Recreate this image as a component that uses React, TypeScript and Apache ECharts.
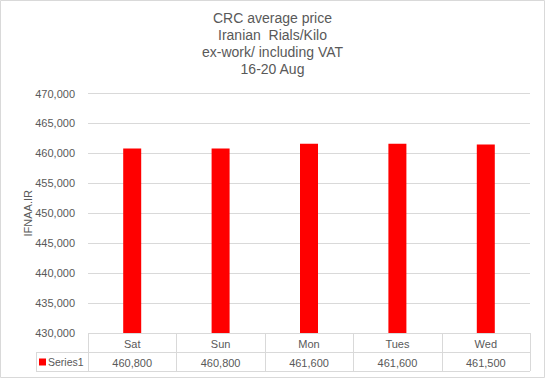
import React, { useEffect, useRef } from "react";
import * as echarts from "echarts";

const titleLines = ["CRC average price", "Iranian  Rials/Kilo", "ex-work/ including VAT", "16-20 Aug"];
const categories = ["Sat", "Sun", "Mon", "Tues", "Wed"];
const seriesName = "Series1";
const values = [460800, 460800, 461600, 461600, 461500];
const yMin = 430000;
const yMax = 470000;
const yStep = 5000;
const yAxisTitle = "IFNAA.IR";

const W = 545;
const H = 378;
const GL = 88;
const GR = 530;
const GT = 93.5;
const GB = 333;
const ROW = 19;
const LEGX = 36;
const LINE = "#d9d9d9";
const TXT = "#595959";

const fmt = (v: number) => v.toLocaleString("en-US");

export default function App() {
  const ref = useRef<HTMLDivElement>(null);
  useEffect(() => {
    document.body.style.margin = "0";
    const chart = echarts.init(ref.current!, null, { renderer: "svg" });
    const colW = (GR - GL) / categories.length;
    const graphics: any[] = [];
    graphics.push({
      type: "rect",
      shape: { x: 0.5, y: 0.5, width: W - 1, height: H - 1 },
      style: { fill: "none", stroke: LINE, lineWidth: 1 },
      silent: true,
    });
    titleLines.forEach((t, i) => {
      graphics.push({
        type: "text",
        x: W / 2,
        y: 18 + i * 17,
        style: {
          text: t,
          fill: TXT,
          font: "14px 'Liberation Sans', Arial, sans-serif",
          textAlign: "center",
          textVerticalAlign: "middle",
        },
      });
    });
    graphics.push({
      type: "text",
      x: 28,
      y: (GT + GB) / 2,
      rotation: Math.PI / 2,
      style: {
        text: yAxisTitle,
        fill: TXT,
        font: "11px 'Liberation Sans', Arial, sans-serif",
        textAlign: "center",
        textVerticalAlign: "middle",
      },
    });
    const hl = (x1: number, x2: number, y: number) =>
      graphics.push({ type: "line", shape: { x1, y1: y, x2, y2: y }, style: { stroke: LINE, lineWidth: 1 } });
    const vl = (x: number, y1: number, y2: number) =>
      graphics.push({ type: "line", shape: { x1: x, y1, x2: x, y2 }, style: { stroke: LINE, lineWidth: 1 } });
    hl(GL, GR, GB + 0.5);
    hl(LEGX, GR, GB + ROW + 0.5);
    hl(LEGX, GR, GB + 2 * ROW + 0.5);
    vl(LEGX + 0.5, GB + ROW, GB + 2 * ROW);
    for (let i = 0; i <= categories.length; i++) {
      vl(Math.round(GL + i * colW) + 0.5, GB, GB + 2 * ROW);
    }
    values.forEach((v, i) => {
      graphics.push({
        type: "text",
        x: GL + (i + 0.5) * colW,
        y: GB + ROW * 1.5 + 1,
        style: {
          text: fmt(v),
          fill: TXT,
          font: "11px 'Liberation Sans', Arial, sans-serif",
          textAlign: "center",
          textVerticalAlign: "middle",
        },
      });
    });
    graphics.push({
      type: "rect",
      shape: { x: 39, y: GB + ROW * 1.5 - 3, width: 7, height: 7 },
      style: { fill: "#ff0000" },
    });
    graphics.push({
      type: "text",
      x: 48,
      y: GB + ROW * 1.5 + 0.5,
      style: {
        text: seriesName,
        fill: TXT,
        font: "10.5px 'Liberation Sans', Arial, sans-serif",
        textAlign: "left",
        textVerticalAlign: "middle",
      },
    });

    chart.setOption({
      animation: false,
      backgroundColor: "#ffffff",
      grid: { left: GL, right: W - GR, top: GT, bottom: H - GB, containLabel: false },
      xAxis: {
        type: "category",
        data: categories,
        axisLine: { show: false },
        axisTick: { show: false },
        axisLabel: {
          color: TXT,
          fontSize: 11,
          fontFamily: "'Liberation Sans', Arial, sans-serif",
          margin: 5,
        },
      },
      yAxis: {
        type: "value",
        min: yMin,
        max: yMax,
        interval: yStep,
        axisLine: { show: false },
        axisTick: { show: false },
        axisLabel: {
          color: TXT,
          fontSize: 11,
          fontFamily: "'Liberation Sans', Arial, sans-serif",
          margin: 13,
          formatter: (v: number) => fmt(v),
        },
        splitLine: { lineStyle: { color: LINE, width: 1 } },
      },
      series: [
        {
          name: seriesName,
          type: "bar",
          data: values,
          barWidth: 18,
          itemStyle: { color: "#ff0000" },
        },
      ],
      graphic: graphics,
    });
    return () => chart.dispose();
  }, []);
  return <div ref={ref} style={{ width: W, height: H }} />;
}
